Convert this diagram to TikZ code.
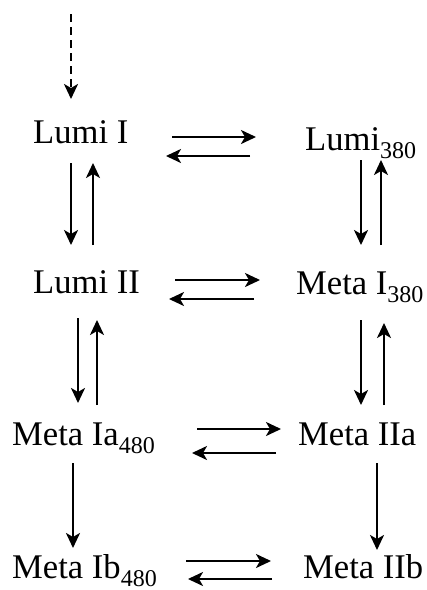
\documentclass[tikz,border=0pt]{standalone}
\usepackage{fontspec}
\setmainfont{Liberation Serif}
\usetikzlibrary{arrows.meta}
\newcommand\lowsub[1]{\raisebox{-8pt}{\fontsize{24}{24}\selectfont #1}}
\begin{document}
\begin{tikzpicture}[x=1pt,y=-1pt,
  state/.style={anchor=base west, inner sep=0pt, font=\fontsize{34.6}{40}\selectfont},
  arr/.style={line width=2.2pt, -{Stealth[length=15pt,width=14pt,inset=4pt]}},
  darr/.style={arr, dash pattern=on 8pt off 5pt}]
\useasboundingbox (0,0) rectangle (427,590);

% states
\node[state] (lumiI)   at (33,143)  {Lumi I};
\node[state] (lumi380) at (305,150) {Lumi\lowsub{380}};
\node[state] (lumiII)  at (33,293)  {Lumi II};
\node[state] (metaI)   at (296,294) {Meta I\lowsub{380}};
\node[state] (metaIa)  at (12,445)  {Meta Ia\lowsub{480}};
\node[state] (metaIIa) at (298,445) {Meta IIa};
\node[state] (metaIb)  at (12,578)  {Meta Ib\lowsub{480}};
\node[state] (metaIIb) at (303,578) {Meta IIb};

% entry
\draw[darr] ([shift={(38,-129)}]lumiI.base west) -- ([shift={(38,-44)}]lumiI.base west);

% row 1
\draw[arr] ([shift={(139,-6)}]lumiI.base west) -- ([shift={(-49,-13)}]lumi380.base west);
\draw[arr] ([shift={(-55,6)}]lumi380.base west) -- ([shift={(133,13)}]lumiI.base west);

% Lumi I <-> Lumi II
\draw[arr] ([shift={(38,20)}]lumiI.base west) -- ([shift={(38,-48)}]lumiII.base west);
\draw[arr] ([shift={(60,-48)}]lumiII.base west) -- ([shift={(60,20)}]lumiI.base west);

% Lumi380 <-> Meta I380
\draw[arr] ([shift={(56,10)}]lumi380.base west) -- ([shift={(65,-49)}]metaI.base west);
\draw[arr] ([shift={(85,-49)}]metaI.base west) -- ([shift={(76,10)}]lumi380.base west);

% row 2
\draw[arr] ([shift={(142,-13)}]lumiII.base west) -- ([shift={(-36,-14)}]metaI.base west);
\draw[arr] ([shift={(-42,5)}]metaI.base west) -- ([shift={(136,6)}]lumiII.base west);

% Lumi II <-> Meta Ia
\draw[arr] ([shift={(45,25)}]lumiII.base west) -- ([shift={(66,-42)}]metaIa.base west);
\draw[arr] ([shift={(85,-40)}]metaIa.base west) -- ([shift={(64,27)}]lumiII.base west);

% Meta I380 <-> Meta IIa
\draw[arr] ([shift={(65,26)}]metaI.base west) -- ([shift={(63,-40)}]metaIIa.base west);
\draw[arr] ([shift={(86,-40)}]metaIIa.base west) -- ([shift={(88,29)}]metaI.base west);

% row 3
\draw[arr] ([shift={(185,-16)}]metaIa.base west) -- ([shift={(-17,-16)}]metaIIa.base west);
\draw[arr] ([shift={(-22,8)}]metaIIa.base west) -- ([shift={(180,8)}]metaIa.base west);

% a -> b
\draw[arr] ([shift={(61,18)}]metaIa.base west) -- ([shift={(61,-30)}]metaIb.base west);
\draw[arr] ([shift={(79,18)}]metaIIa.base west) -- ([shift={(74,-28)}]metaIIb.base west);

% row 4
\draw[arr] ([shift={(174,-17)}]metaIb.base west) -- ([shift={(-32,-17)}]metaIIb.base west);
\draw[arr] ([shift={(-31,1)}]metaIIb.base west) -- ([shift={(176,1)}]metaIb.base west);
\end{tikzpicture}
\end{document}
